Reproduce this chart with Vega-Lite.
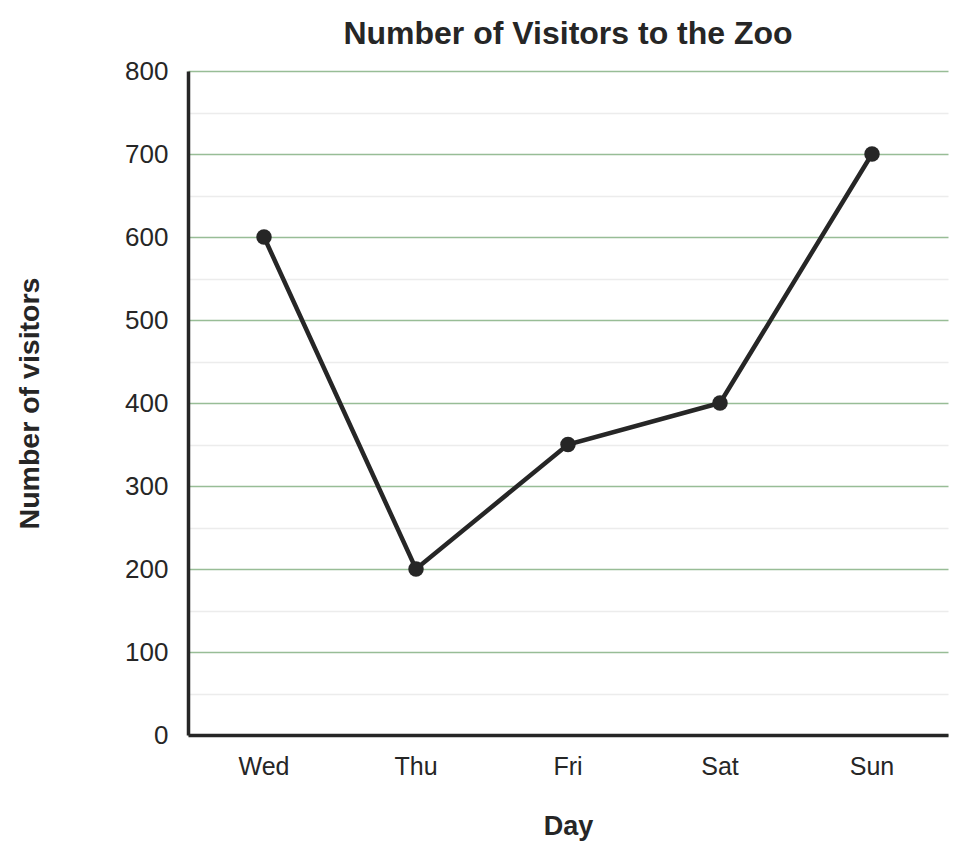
{
  "$schema": "https://vega.github.io/schema/vega-lite/v6.json",
  "width": 760,
  "height": 664,
  "autosize": {"type": "none"},
  "padding": {"left": 188, "top": 71, "right": 20, "bottom": 126},
  "background": "white",
  "title": {
    "text": "Number of Visitors to the Zoo",
    "font": "Liberation Sans",
    "fontSize": 32,
    "fontWeight": "bold",
    "color": "#262626",
    "anchor": "middle",
    "offset": 7
  },
  "config": {
    "view": {"stroke": null},
    "axis": {"labelFont": "Liberation Sans", "titleFont": "Liberation Sans", "labelColor": "#262626", "titleColor": "#262626"}
  },
  "data": {
    "values": [
      {"day": "Wed", "visitors": 600},
      {"day": "Thu", "visitors": 200},
      {"day": "Fri", "visitors": 350},
      {"day": "Sat", "visitors": 400},
      {"day": "Sun", "visitors": 700}
    ]
  },
  "encoding": {
    "x": {
      "field": "day",
      "type": "nominal",
      "sort": null,
      "scale": {"type": "band", "paddingInner": 0, "paddingOuter": 0},
      "title": "Day",
      "axis": {
        "labelAngle": 0,
        "labelFontSize": 25,
        "labelPadding": 19,
        "ticks": false,
        "domainColor": "#262626",
        "domainWidth": 3.5,
        "titleFontSize": 27,
        "titleFontWeight": "bold",
        "titlePadding": 34
      }
    },
    "y": {
      "field": "visitors",
      "type": "quantitative",
      "scale": {"domain": [0, 800], "nice": false},
      "title": "Number of visitors",
      "axis": {
        "values": [0, 50, 100, 150, 200, 250, 300, 350, 400, 450, 500, 550, 600, 650, 700, 750, 800],
        "labelExpr": "datum.value % 100 === 0 ? datum.label : ''",
        "labelFontSize": 26,
        "labelPadding": 20,
        "ticks": false,
        "domainColor": "#262626",
        "domainWidth": 3.5,
        "grid": true,
        "gridWidth": 1.5,
        "gridColor": {"condition": {"test": "datum.value % 100 === 0", "value": "#98bd96"}, "value": "#ececec"},
        "titleFontSize": 28.5,
        "titleFontWeight": "bold",
        "titlePadding": 80
      }
    }
  },
  "layer": [
    {"mark": {"type": "line", "color": "#262626", "strokeWidth": 4.5}},
    {"mark": {"type": "point", "filled": true, "opacity": 1, "color": "#262626", "size": 240}}
  ]
}
